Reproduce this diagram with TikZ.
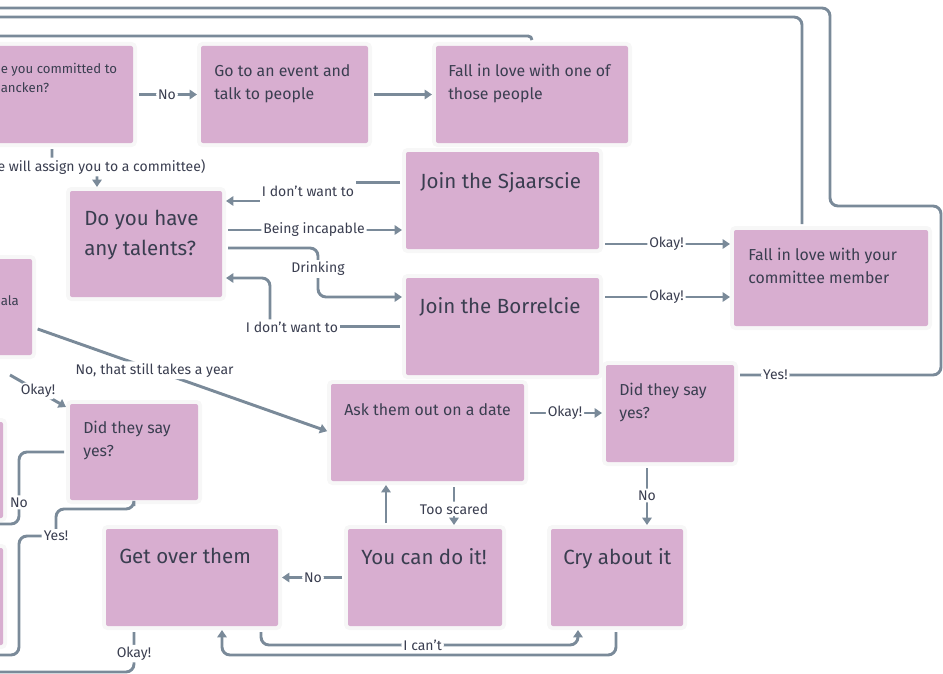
\documentclass[tikz,border=0pt]{standalone}
\usepackage{fontspec}
\setmainfont{Fira Sans}
\usepackage{tikz}
\usetikzlibrary{calc}
\usetikzlibrary{arrows.meta}

\definecolor{boxpink}{RGB}{216,174,208}
\definecolor{wire}{RGB}{122,138,153}
\definecolor{ink}{RGB}{58,62,80}

\tikzset{
  box/.style={fill=boxpink, rounded corners=1.5pt, inner sep=0pt, outer sep=0pt,
    preaction={draw=black!3, line width=6pt}},
  bigtxt/.style={anchor=base west, inner sep=0pt, text=ink, align=left,
    font=\fontsize{15.4}{22}\selectfont},
  midtxt/.style={anchor=base west, inner sep=0pt, text=ink, align=left,
    font=\fontsize{11.9}{17}\selectfont},
  smalltxt/.style={anchor=base west, inner sep=0pt, text=ink, align=left,
    font=\fontsize{9.9}{14.25}\selectfont},
  lbl/.style={fill=white, inner sep=1.5pt, text=ink,
    font=\fontsize{10.5}{12}\selectfont},
  conn/.style={draw=wire, line width=2.2pt, rounded corners=6pt},
  arrowed/.style={-{Triangle[length=5.5pt,width=7pt]}},
  frombox/.style={shorten <=4.5pt},
  tobox/.style={shorten >=3pt},
}

\begin{document}
\begin{tikzpicture}[x=0.75pt, y=-0.75pt]
    \path[use as bounding box] (0,0) rectangle (943,674);
    % Boxes.
    \foreach \n/\x/\y/\w/\h in {francken/-100/46/233/97, event/201/46/167/97,
        love1/436/46/192/97, talents/70/191/152/106, sjaar/406/152/193/97,
        borrel/406/278/193/97, committee/734/230/194/96, yesR/606/365/128/97,
        date/331/384/193/97, yesL/70/404/128/96, getover/106/529/172/97,
        youcan/348/529/154/97, cry/551/529/132/97, gala/-100/259/132/96,
        leftO/-100/422/103/96, leftP/-100/548/103/97}
      \node[box, anchor=north west, minimum width=\w*0.75pt,
        minimum height=\h*0.75pt] (\n) at (\x,\y) {};
    % Box texts (base is the last line).
    \node[smalltxt] (francken txt) at ($(francken.north west)+(100.5,47)$) {e you committed to\\ancken?};
    \node[midtxt] (event txt) at ($(event.north west)+(13,53)$) {Go to an event and\\talk to people};
    \node[midtxt] (love1 txt) at ($(love1.north west)+(12,53)$) {Fall in love with one of\\those people};
    \node[bigtxt] (talents txt) at ($(talents.north west)+(14,64)$) {Do you have\\any talents?};
    \node[bigtxt] (sjaar txt) at ($(sjaar.north west)+(14,36)$) {Join the Sjaarscie};
    \node[bigtxt] (borrel txt) at ($(borrel.north west)+(13,35)$) {Join the Borrelcie};
    \node[midtxt] (committee txt) at ($(committee.north west)+(14,53)$) {Fall in love with your\\committee member};
    \node[midtxt] (yesR txt) at ($(yesR.north west)+(13,53)$) {Did they say\\yes?};
    \node[midtxt] (date txt) at ($(date.north west)+(13,31)$) {Ask them out on a date};
    \node[midtxt] (yesL txt) at ($(yesL.north west)+(13,52)$) {Did they say\\yes?};
    \node[bigtxt] (getover txt) at ($(getover.north west)+(13,34)$) {Get over them};
    \node[bigtxt] (youcan txt) at ($(youcan.north west)+(13,35)$) {You can do it!};
    \node[bigtxt] (cry txt) at ($(cry.north west)+(12,35)$) {Cry about it};
    \node[smalltxt] (gala txt) at ($(gala.north west)+(100.5,46)$) {ala};
    % Free labels.
    \node[lbl] (dontS) at (308,191) {I don't want to};
    \node[lbl] (drink) at (318,269) {Drinking};
    \node[lbl] (dontB) at (292,327) {I don't want to};
    \node[lbl] (yesL lbl) at (56,536) {Yes!};
    % Ports.
    \coordinate (sjIn) at ($(sjaar.west)+(0,-18)$);
    \coordinate (tlIn) at ($(talents.east)+(0,-43)$);
    \coordinate (incap) at ($(talents.east)+(0,-14)$);
    \coordinate (okS) at ($(sjaar.east)+(0,43.5)$);
    \coordinate (okB) at ($(borrel.east)+(0,-29.5)$);
    \coordinate (okD) at ($(date.east)+(0,-19.5)$);
    \coordinate (loopA) at (941,206);
    \coordinate (loopB) at (830,8);
    % Top row.
    \draw[conn, arrowed, frombox, tobox] (francken) -- node[lbl] (no top) {No} (event);
    \draw[conn, arrowed, frombox, tobox] (event) -- (love1);
    \draw[conn, arrowed, frombox, tobox] ($(francken.south east)+(-81,0)$)
      |- ($(francken.south east)!.5!(talents.north west)$)
      node[lbl] (assign) {e will assign you to a committee)}
      -| ($(talents.north west)+(27,0)$);
    % Long loops.
    \draw[conn, rounded corners=3pt] ($(love1.north west)+(96,-6)$) |- (-10,36);
    \draw[conn, frombox] ($(committee.north west)+(68,0)$) |- (-10,17);
    \draw[conn, frombox] ($(yesR.east)+(0,-38.5)$)
      -| node[lbl, pos=0.1] (yes top) {Yes!} (loopA) -| (loopB) -- (-10,8);
    % Committees.
    \draw[conn, frombox] (sjIn) -- (sjIn -| dontS.east);
    \draw[conn, arrowed, tobox] (dontS.west |- tlIn) -- (tlIn);
    \draw[conn, arrowed, frombox, tobox] (incap) -- node[lbl] (incap lbl) {Being incapable} (incap -| sjaar.west);
    \draw[conn, frombox] ($(talents.east)+(0,4)$) -| (drink);
    \draw[conn, arrowed, tobox] (drink) |- ($(borrel.west)+(0,-29.5)$);
    \draw[conn, frombox] (borrel.west) -- (borrel.west -| dontB.east);
    \draw[conn, arrowed, tobox] ($(dontB.north)+(-22,0)$) |- ($(talents.east)+(0,34)$);
    \draw[conn, arrowed, frombox, tobox] (okS) -- node[lbl] (okS lbl) {Okay!} (okS -| committee.west);
    \draw[conn, arrowed, frombox, tobox] (okB) -- node[lbl] (okB lbl) {Okay!} (okB -| committee.west);
    % Date.
    \draw[conn, arrowed, frombox, tobox] ($(gala.east)+(0,20)$)
      -- node[lbl, pos=0.41] (year) {No, that still takes a year} (date.west);
    \draw[conn, arrowed] ($(gala.south east)+(-22,20)$)
      -- node[lbl] (okG lbl) {Okay!} ($(yesL.north west)+(-4,3)$);
    \draw[conn, arrowed, frombox, tobox] (okD) -- node[lbl] (okD lbl) {Okay!} (okD -| yesR.west);
    \draw[conn, arrowed, frombox, tobox] ($(yesR.south west)+(41,0)$)
      -- node[lbl] (noR lbl) {No} ($(cry.north west)+(96,0)$);
    \draw[conn, arrowed, frombox, tobox] ($(date.south west)+(123,0)$)
      -- node[lbl, pos=0.58] (scared) {Too scared} ($(youcan.north west)+(106,0)$);
    \draw[conn, arrowed, frombox, tobox] ($(youcan.north west)+(38,0)$) -- ($(date.south west)+(55,0)$);
    \draw[conn, arrowed, frombox, tobox] (youcan) -- node[lbl] (noY lbl) {No} (getover);
    % Bottom.
    \draw[conn, arrowed, frombox, tobox] ($(getover.south east)+(-17,0)$) -- ++(0,19)
      -| node[lbl, pos=0.255] (cant) {I can't} ($(cry.south west)+(27,0)$);
    \draw[conn, arrowed, frombox, tobox] ($(cry.south west)+(65,0)$) -- ++(0,29)
      -| ($(getover.south west)+(116,0)$);
    \draw[conn, frombox] ($(getover.south west)+(28,0)$) |- node[lbl, pos=0.3] (okK lbl) {Okay!} (-10,672);
    % Left side.
    \draw[conn, frombox] (yesL.west) -| node[lbl, pos=0.85] (noL lbl) {No} ($(yesL.west)+(-51,72)$) -- ++(-30,0);
    \draw[conn, frombox] ($(yesL.south west)+(64,0)$) -- ++(0,9) -| (yesL lbl);
    \draw[conn] (yesL lbl) -| ($(yesL lbl)+(-37,119)$) -- ++(-30,0);
\end{tikzpicture}
\end{document}
